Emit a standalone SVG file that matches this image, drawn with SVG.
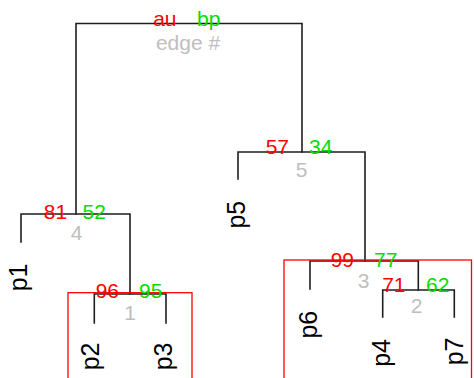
<svg xmlns="http://www.w3.org/2000/svg" width="474" height="378" viewBox="0 0 474 378">
<style>
.e{stroke:#1e1e1e;stroke-width:1.6;fill:none;stroke-linecap:square}
.box{stroke:#ff0000;stroke-width:1.3;fill:none}
text{font-family:"Liberation Sans",Arial,sans-serif}
.au{fill:#ff0000;font-size:21px;text-anchor:end}
.bp{fill:#00dd00;font-size:21px;text-anchor:start}
.ed{fill:#bebebe;font-size:21px;text-anchor:middle}
.tip{fill:#000;font-size:25px;text-anchor:end}
</style>
<rect width="474" height="378" fill="#fff"/>
<g id="connectors">
<path class="e" d="M76,214V23.5H302V152"/>
<path class="e" d="M21,242V214H130V294"/>
<path class="e" d="M94.3,323V294H166V323"/>
<path class="e" d="M238,179V152H365V261"/>
<path class="e" d="M310,289V261H418.3V290"/>
<path class="e" d="M382.7,317V290H454.3V317"/>
</g>
<g id="boxes">
<rect class="box" x="68" y="292.7" width="124" height="100"/>
<rect class="box" x="284" y="260" width="187.5" height="130"/>
</g>
<g id="node-root">
<text class="au" x="176.5" y="25.7">au</text>
<text class="bp" x="197" y="25.7">bp</text>
<text class="ed" x="188" y="49.5">edge #</text>
</g>
<g id="node-4">
<text class="au" x="67.2" y="219">81</text>
<text class="bp" x="82.5" y="219">52</text>
<text class="ed" x="76.5" y="239.5">4</text>
</g>
<g id="node-1">
<text class="au" x="119" y="298.3">96</text>
<text class="bp" x="139" y="298.3">95</text>
<text class="ed" x="130" y="319.5">1</text>
</g>
<g id="node-5">
<text class="au" x="289" y="154.3">57</text>
<text class="bp" x="309" y="154.3">34</text>
<text class="ed" x="301.5" y="176.5">5</text>
</g>
<g id="node-3">
<text class="au" x="354" y="267.3">99</text>
<text class="bp" x="374" y="267.3">77</text>
<text class="ed" x="363.5" y="288">3</text>
</g>
<g id="node-2">
<text class="au" x="405.5" y="291.5">71</text>
<text class="bp" x="426" y="291.5">62</text>
<text class="ed" x="416.7" y="313">2</text>
</g>
<g id="leaf-p1"><text class="tip" transform="translate(27.1,263.5) rotate(-90)">p1</text></g>
<g id="leaf-p2"><text class="tip" transform="translate(98.8,342.5) rotate(-90)">p2</text></g>
<g id="leaf-p3"><text class="tip" transform="translate(172.1,342.5) rotate(-90)">p3</text></g>
<g id="leaf-p5"><text class="tip" transform="translate(244.6,200.8) rotate(-90)">p5</text></g>
<g id="leaf-p6"><text class="tip" transform="translate(317.1,310.8) rotate(-90)">p6</text></g>
<g id="leaf-p4"><text class="tip" transform="translate(389.8,339) rotate(-90)">p4</text></g>
<g id="leaf-p7"><text class="tip" transform="translate(462.8,337.5) rotate(-90)">p7</text></g>
</svg>
